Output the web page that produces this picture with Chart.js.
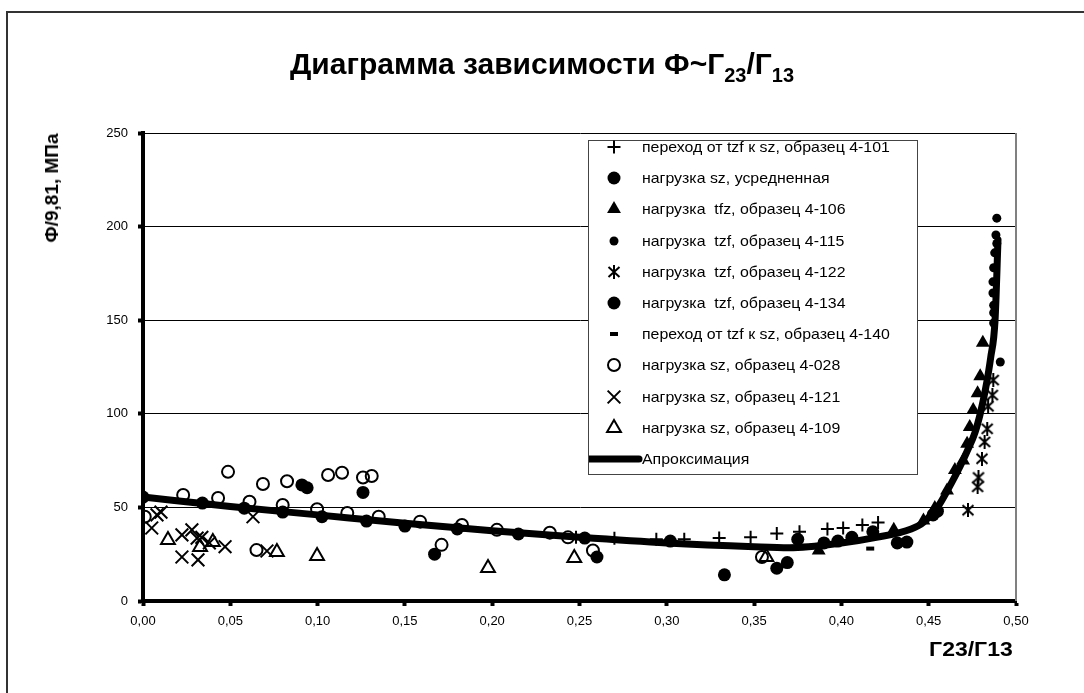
<!DOCTYPE html>
<html>
<head>
<meta charset="utf-8">
<script src="https://cdn.jsdelivr.net/npm/chart.js@4.4.1/dist/chart.umd.min.js"></script>
<style>
  body { margin: 0; background: #fff; font-family: "Liberation Sans", Arial, sans-serif; }
  #wrap { position: relative; width: 1084px; height: 693px; overflow: hidden; }
  #frame { position: absolute; left: 6px; top: 11px; width: 1200px; height: 800px;
           border-left: 2px solid #333; border-top: 2px solid #333; }
  #title { position: absolute; left: 0; width: 1084px; top: 47px; text-align: center;
           font-weight: bold; font-size: 30px; color: #000; white-space: nowrap; }
  #title sub { font-size: 20px; vertical-align: -8px; }
  #ytitle { position: absolute; left: 52px; top: 188px; transform: translate(-50%, -50%) rotate(-90deg);
            font-weight: bold; font-size: 19px; white-space: nowrap; }
  #xtitle { position: absolute; right: 71px; top: 638px; font-weight: bold; font-size: 20px;
            transform: scaleX(1.15); transform-origin: right center; }
  #legend { position: absolute; left: 588px; top: 140px; width: 328px; height: 333px;
            border: 1px solid #444; background: #fff; }
  .row { position: absolute; left: 0; height: 20px; font-size: 15px; line-height: 20px; white-space: pre; }
  .row canvas { position: absolute; left: 0; top: 0; }
  .row span { position: absolute; left: 53px; top: 0; transform: scaleX(1.06); transform-origin: left center; }
  canvas#chart { position: absolute; left: 0; top: 0; }
</style>
</head>
<body>
<div id="wrap">
  <div id="frame"></div>
  <canvas id="chart" width="1084" height="693"></canvas>
  <div id="title">Диаграмма зависимости Ф~Г<sub>23</sub>/Г<sub>13</sub></div>
  <div id="ytitle">Ф/9,81, МПа</div>
  <div id="xtitle">Г23/Г13</div>
  <div id="legend"></div>
</div>
<script>
// tick labels
const xTickLabels = ['0,00', '0,05', '0,10', '0,15', '0,20', '0,25', '0,30', '0,35', '0,40', '0,45', '0,50'];
const yTickLabels = ['0', '50', '100', '150', '200', '250'];

// переход от tzf к sz, образец 4-101
const s101X = [0.248, 0.27, 0.294, 0.31, 0.33, 0.348, 0.363, 0.376, 0.392, 0.401, 0.412, 0.421];
const s101Y = [34, 33.5, 33, 33, 33.6, 34, 36, 37, 38.5, 39, 40.6, 42];

// нагрузка sz, усредненная
const sAvgX = [0, 0.034, 0.058, 0.08, 0.1025, 0.128, 0.15, 0.18, 0.215, 0.253, 0.302, 0.375, 0.39, 0.398, 0.406, 0.418, 0.432, 0.4375, 0.4525, 0.455];
const sAvgY = [55.5, 52.3, 49.6, 47.5, 45, 42.7, 40, 38.5, 35.8, 33.6, 32, 33, 31, 32, 34, 37, 31, 31.5, 46, 48];

// нагрузка tfz, образец 4-106
const s106X = [0.387, 0.43, 0.447, 0.4535, 0.4605, 0.465, 0.4697, 0.472, 0.4735, 0.4755, 0.478, 0.4795, 0.481];
const s106Y = [27, 38, 43, 49.7, 59, 70, 75, 84, 93, 102, 111, 120, 138];

// нагрузка tzf, образец 4-115
const s115X = [0.489, 0.4885, 0.489, 0.4878, 0.4872, 0.4868, 0.4868, 0.4872, 0.4872, 0.4872, 0.491];
const s115Y = [204.5, 195.5, 191, 186, 178, 170.5, 164.5, 158, 154, 148.5, 127.7];

// нагрузка tzf, образец 4-122
const s122X = [0.487, 0.4865, 0.484, 0.4835, 0.482, 0.4805, 0.4785, 0.478, 0.4725];
const s122Y = [118, 110, 104, 92, 85, 76, 66, 61, 48.5];

// нагрузка tzf, образец 4-134
const s134X = [0.091, 0.094, 0.126, 0.167, 0.26, 0.333, 0.363, 0.369];
const s134Y = [62, 60.5, 58, 25, 23.5, 14, 17.5, 20.5];

// переход от tzf к sz, образец 4-140
const s140X = [0.155, 0.175, 0.21, 0.245, 0.27, 0.285, 0.30, 0.40, 0.4165];
const s140Y = [41, 39.5, 37, 34.5, 32.5, 31.5, 31, 31, 28];

// нагрузка sz, образец 4-028
const s028X = [0.001, 0.023, 0.043, 0.0487, 0.061, 0.0687, 0.065, 0.08, 0.0825, 0.0997, 0.106, 0.114, 0.117, 0.126, 0.131, 0.135, 0.1587, 0.171, 0.1827, 0.2027, 0.233, 0.2434, 0.2577, 0.3545];
const s028Y = [45, 56.6, 55, 69, 53, 62.5, 27.2, 51.3, 64, 49, 67.3, 68.5, 47, 66, 66.8, 45, 42.4, 30, 40.6, 38, 36.5, 34, 27, 23.5];

// нагрузка sz, образец 4-121
const s121X = [0.005, 0.008, 0.0103, 0.0223, 0.0223, 0.028, 0.031, 0.0315, 0.0337, 0.038, 0.047, 0.063, 0.071];
const s121Y = [39, 46, 47.5, 35.3, 23.5, 38, 33.6, 22, 34, 31, 29, 45, 26.7];

// нагрузка sz, образец 4-109
const s109X = [0.0143, 0.0327, 0.04, 0.0767, 0.0997, 0.1976, 0.247, 0.357];
const s109Y = [32.6, 28.8, 31.5, 26.2, 24, 17.6, 23, 23.5];

// Апроксимация
const approxX = [0, 0.05, 0.10, 0.15, 0.20, 0.25, 0.30, 0.35, 0.37, 0.40, 0.42, 0.44, 0.447, 0.455, 0.463, 0.468, 0.4725, 0.4765, 0.4795, 0.4825, 0.4855, 0.488, 0.4897];
const approxY = [55.5, 50.5, 46, 41.5, 37.5, 34, 31, 29, 28.5, 31, 34, 38.5, 42, 50, 63, 72, 81, 90, 100, 113, 130, 150, 193];

function pts(xs, ys) {
  return xs.map((x, i) => ({ x: x, y: ys[i] }));
}

// excel-like asterisk marker: vertical bar plus an X
function makeAsterisk() {
  const cv = document.createElement('canvas');
  cv.width = 14; cv.height = 14;
  const c = cv.getContext('2d');
  c.strokeStyle = '#000';
  c.lineWidth = 2;
  c.beginPath();
  c.moveTo(7, 0); c.lineTo(7, 14);
  c.moveTo(1.5, 2); c.lineTo(12.5, 12);
  c.moveTo(12.5, 2); c.lineTo(1.5, 12);
  c.stroke();
  return cv;
}
const asterisk = makeAsterisk();

// marker styles for scatter series and legend
const series = [
  { label: 'переход от tzf к sz, образец 4-101', xs: s101X, ys: s101Y, style: 'cross', r: 6.5, bw: 2, fill: '#000' },
  { label: 'нагрузка sz, усредненная', xs: sAvgX, ys: sAvgY, style: 'circle', r: 6.5, bw: 0, fill: '#000' },
  { label: 'нагрузка  tfz, образец 4-106', xs: s106X, ys: s106Y, style: 'triangle', r: 8, bw: 0, fill: '#000' },
  { label: 'нагрузка  tzf, образец 4-115', xs: s115X, ys: s115Y, style: 'circle', r: 4.5, bw: 0, fill: '#000' },
  { label: 'нагрузка  tzf, образец 4-122', xs: s122X, ys: s122Y, style: asterisk, r: 7, bw: 2, fill: '#000' },
  { label: 'нагрузка  tzf, образец 4-134', xs: s134X, ys: s134Y, style: 'circle', r: 6.5, bw: 0, fill: '#000' },
  { label: 'переход от tzf к sz, образец 4-140', xs: s140X, ys: s140Y, style: 'line', r: 4, bw: 4, fill: '#000' },
  { label: 'нагрузка sz, образец 4-028', xs: s028X, ys: s028Y, style: 'circle', r: 6, bw: 2, fill: 'rgba(255,255,255,0)' },
  { label: 'нагрузка sz, образец 4-121', xs: s121X, ys: s121Y, style: 'crossRot', r: 9, bw: 2, fill: '#000' },
  { label: 'нагрузка sz, образец 4-109', xs: s109X, ys: s109Y, style: 'triangle', r: 8, bw: 2, fill: 'rgba(255,255,255,0)' }
];

const datasets = series.map((s, i) => ({
  type: 'scatter',
  label: s.label,
  data: pts(s.xs, s.ys),
  pointStyle: s.style,
  pointRadius: s.r,
  pointHoverRadius: s.r,
  pointBorderWidth: s.bw,
  pointBorderColor: '#000',
  pointBackgroundColor: s.fill,
  borderColor: '#000',
  backgroundColor: s.fill,
  showLine: false,
  order: i + 1
}));

datasets.push({
  type: 'line',
  label: 'Апроксимация',
  data: pts(approxX, approxY),
  borderColor: '#000',
  borderWidth: 7,
  pointRadius: 0,
  fill: false,
  cubicInterpolationMode: 'monotone',
  borderCapStyle: 'round',
  borderJoinStyle: 'round',
  order: 0
});

// gray right edge of the plot area
const plotFrame = {
  id: 'plotFrame',
  beforeDatasetsDraw(chart) {
    const a = chart.chartArea, c = chart.ctx;
    c.save();
    c.strokeStyle = '#808080';
    c.lineWidth = 2;
    c.beginPath();
    c.moveTo(a.right, a.top);
    c.lineTo(a.right, a.bottom);
    c.stroke();
    c.restore();
  }
};

const tickFont = { family: '"Liberation Sans", Arial, sans-serif', size: 13 };

const chart = new Chart(document.getElementById('chart').getContext('2d'), {
  data: { datasets: datasets },
  options: {
    responsive: false,
    animation: false,
    devicePixelRatio: 1,
    layout: { padding: { top: 133, right: 68, left: 0, bottom: 0 } },
    plugins: { legend: { display: false }, tooltip: { enabled: false } },
    scales: {
      x: {
        type: 'linear',
        min: 0,
        max: 0.5,
        ticks: {
          stepSize: 0.05,
          color: '#000',
          font: tickFont,
          padding: 8,
          maxRotation: 0,
          callback: (v, i) => xTickLabels[i]
        },
        grid: { drawOnChartArea: false, drawTicks: true, tickLength: 5, tickWidth: 4, tickColor: '#000' },
        border: { display: true, color: '#000', width: 4 },
        afterFit(scale) { scale.height = 92; }
      },
      y: {
        min: 0,
        max: 250,
        ticks: {
          stepSize: 50,
          color: '#000',
          font: tickFont,
          padding: 10,
          callback: (v, i) => yTickLabels[i]
        },
        grid: { color: '#000', lineWidth: 1, drawTicks: true, tickLength: 5, tickWidth: 4, tickColor: '#000' },
        border: { display: true, color: '#000', width: 4 },
        afterFit(scale) { scale.width = 143; }
      }
    }
  },
  plugins: [plotFrame]
});

// legend built as html with small canvases for markers
function buildLegend() {
  const box = document.getElementById('legend');
  const rowTop0 = 6 - 10;
  const step = 31.2;
  const all = series.concat([{ label: 'Апроксимация', style: 'approx' }]);
  all.forEach((s, i) => {
    const row = document.createElement('div');
    row.className = 'row';
    row.style.top = (rowTop0 + i * step) + 'px';
    row.style.width = '320px';
    const cv = document.createElement('canvas');
    cv.width = 54; cv.height = 20;
    const span = document.createElement('span');
    span.textContent = s.label;
    row.appendChild(cv);
    row.appendChild(span);
    box.appendChild(row);
    const c = cv.getContext('2d');
    c.fillStyle = '#000';
    c.strokeStyle = '#000';
    if (s.style === 'approx') {
      c.lineWidth = 7;
      c.lineCap = 'round';
      c.beginPath();
      c.moveTo(-2, 10);
      c.lineTo(50, 10);
      c.stroke();
      return;
    }
    c.fillStyle = s.fill;
    c.lineWidth = s.bw;
    Chart.helpers.drawPoint(c, { pointStyle: s.style, radius: s.r, rotation: 0, borderWidth: s.bw }, 25, 10);
  });
}
buildLegend();
</script>
</body>
</html>
